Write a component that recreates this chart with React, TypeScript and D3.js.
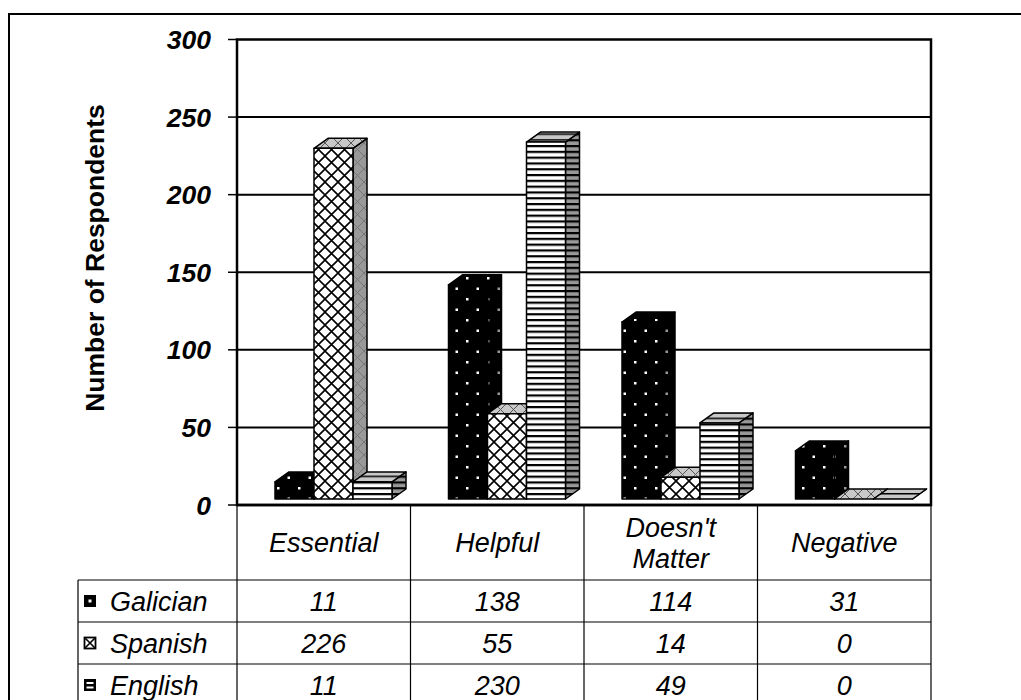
import React from "react";
import * as d3 from "d3";

// Survey answers by language
const categories = ["Essential", "Helpful", "Doesn't Matter", "Negative"];
const categoryLines = [["Essential"], ["Helpful"], ["Doesn't", "Matter"], ["Negative"]];
const seriesNames = ["Galician", "Spanish", "English"];
const galician = [11, 138, 114, 31];
const spanish = [226, 55, 14, 0];
const english = [11, 230, 49, 0];
const yTicks = [0, 50, 100, 150, 200, 250, 300];

const seriesValues = [galician, spanish, english];

const W = 1021;
const H = 700;
const plotLeft = 237;
const plotRight = 931;
const plotTop = 39.5;
const plotBottom = 505;
const floorShift = 6; // front faces sit slightly above the back wall baseline
const depthX = 14;
const depthY = -10;
const groupOffset = 38;
const barW = 39;

const tableLeft = 78;
const headerBottom = 580;
const rowH = 42;

const font = "'Liberation Sans', Arial, Helvetica, sans-serif";
const tableFont = 27;

const faceFills = [
  { front: "url(#dotsFront)", side: "url(#dotsSide)", top: "url(#dotsFront)" },
  { front: "url(#crossFront)", side: "url(#crossSide)", top: "url(#crossTop)" },
  { front: "url(#stripeFront)", side: "url(#stripeSide)", top: "url(#stripeTop)" },
];

export default function App() {
  const y = d3.scaleLinear().domain([0, 300]).range([plotBottom, plotTop]);
  const x = d3.scaleBand<string>().domain(categories).range([plotLeft, plotRight]);
  const xs = d3
    .scaleBand<string>()
    .domain(seriesNames)
    .range([0, barW * seriesNames.length]);

  const bars: React.ReactNode[] = [];
  categories.forEach((c, ci) => {
    seriesNames.forEach((s, si) => {
      const v = seriesValues[si][ci];
      const x0 = (x(c) as number) + groupOffset + (xs(s) as number);
      const x1 = x0 + barW;
      const bottom = plotBottom - floorShift;
      const top = y(v) - floorShift;
      const f = faceFills[si];
      const pts = (arr: number[][]) => arr.map((p) => p.join(",")).join(" ");
      bars.push(
        <g key={`${c}-${s}`} stroke="#000" strokeWidth={1.5} strokeLinejoin="round">
          <polygon
            fill={f.side}
            points={pts([
              [x1, top],
              [x1 + depthX, top + depthY],
              [x1 + depthX, bottom + depthY],
              [x1, bottom],
            ])}
          />
          <polygon
            fill={f.top}
            points={pts([
              [x0, top],
              [x1, top],
              [x1 + depthX, top + depthY],
              [x0 + depthX, top + depthY],
            ])}
          />
          {v > 0 && <rect x={x0} y={top} width={barW} height={bottom - top} fill={f.front} />}
        </g>
      );
    });
  });

  const colEdges = [plotLeft, ...categories.map((c) => (x(c) as number) + x.bandwidth())];
  const rowTops = seriesNames.map((_, i) => headerBottom + i * rowH);

  return (
    <svg
      width={W}
      height={H}
      style={{ position: "absolute", left: 0, top: 0, background: "#fff" }}
      fontFamily={font}
    >
      <defs>
        <pattern id="dotsFront" width={21} height={21} patternUnits="userSpaceOnUse">
          <rect width={21} height={21} fill="#000" />
          <rect x={4} y={4} width={2.5} height={2.5} fill="#fff" />
          <rect x={14.5} y={14.5} width={2.5} height={2.5} fill="#fff" />
        </pattern>
        <pattern id="dotsSide" width={21} height={21} patternUnits="userSpaceOnUse">
          <rect width={21} height={21} fill="#000" />
          <rect x={4} y={4} width={2.5} height={2.5} fill="#999" />
          <rect x={14.5} y={14.5} width={2.5} height={2.5} fill="#999" />
        </pattern>
        <pattern id="crossFront" width={13} height={13} patternUnits="userSpaceOnUse">
          <rect width={13} height={13} fill="#fff" />
          <path d="M0,0L13,13M13,0L0,13" stroke="#000" strokeWidth={1.6} />
        </pattern>
        <pattern id="crossSide" width={13} height={13} patternUnits="userSpaceOnUse">
          <rect width={13} height={13} fill="#999" />
          <path d="M0,0L13,13M13,0L0,13" stroke="#777" strokeWidth={1} />
        </pattern>
        <pattern id="crossTop" width={13} height={13} patternUnits="userSpaceOnUse">
          <rect width={13} height={13} fill="#c8c8c8" />
          <path d="M0,0L13,13M13,0L0,13" stroke="#555" strokeWidth={1} />
        </pattern>
        <pattern id="stripeFront" width={8} height={5.8} patternUnits="userSpaceOnUse">
          <rect width={8} height={5.8} fill="#fff" />
          <rect y={0} width={8} height={2.2} fill="#000" />
        </pattern>
        <pattern id="stripeSide" width={8} height={5.8} patternUnits="userSpaceOnUse">
          <rect width={8} height={5.8} fill="#999" />
          <rect y={0} width={8} height={2.2} fill="#000" />
        </pattern>
        <pattern id="stripeTop" width={8} height={5.8} patternUnits="userSpaceOnUse">
          <rect width={8} height={5.8} fill="#c8c8c8" />
          <rect y={0} width={8} height={1.5} fill="#000" />
        </pattern>
      </defs>

      {/* outer frame */}
      <rect x={9} y={14} width={1040} height={720} fill="none" stroke="#000" strokeWidth={2} />

      {/* gridlines and ticks */}
      {yTicks.map((t) => (
        <g key={t}>
          {t > 0 && t < 300 && (
            <line x1={plotLeft} x2={plotRight} y1={y(t)} y2={y(t)} stroke="#000" strokeWidth={2} />
          )}
          <line x1={228} x2={plotLeft} y1={y(t)} y2={y(t)} stroke="#000" strokeWidth={1.5} />
          <text
            x={211}
            y={y(t)}
            dy="0.36em"
            textAnchor="end"
            fontSize={26.5}
            fontWeight="bold"
            fontStyle="italic"
          >
            {t}
          </text>
        </g>
      ))}

      {/* plot frame */}
      <rect
        x={plotLeft}
        y={plotTop}
        width={plotRight - plotLeft}
        height={plotBottom - plotTop}
        fill="none"
        stroke="#000"
        strokeWidth={2.5}
      />

      {bars}

      {/* axis title */}
      <text
        transform="translate(104,258) rotate(-90)"
        textAnchor="middle"
        fontSize={26.5}
        fontWeight="bold"
      >
        Number of Respondents
      </text>

      {/* data table */}
      <g stroke="#000" strokeWidth={1.2}>
        {colEdges.map((cx, i) => (
          <line key={i} x1={cx} x2={cx} y1={plotBottom} y2={H + 10} />
        ))}
        <line x1={tableLeft} x2={tableLeft} y1={headerBottom} y2={H + 10} />
        {rowTops.map((ry, i) => (
          <line key={i} x1={tableLeft} x2={plotRight} y1={ry} y2={ry} />
        ))}
        <line x1={tableLeft} x2={plotRight} y1={headerBottom + 3 * rowH} y2={headerBottom + 3 * rowH} />
      </g>
      <line x1={plotLeft} x2={plotRight} y1={plotBottom} y2={plotBottom} stroke="#000" strokeWidth={2.5} />

      {categories.map((c, ci) => {
        const cx = (x(c) as number) + x.bandwidth() / 2;
        const lines = categoryLines[ci];
        const mid = (plotBottom + headerBottom) / 2;
        return (
          <text key={c} textAnchor="middle" fontSize={tableFont} fontStyle="italic">
            {lines.map((ln, li) => (
              <tspan key={li} x={cx} y={mid + (li - (lines.length - 1) / 2) * 31} dy="0.36em">
                {ln}
              </tspan>
            ))}
          </text>
        );
      })}

      {seriesNames.map((s, si) => {
        const cy = rowTops[si] + rowH / 2;
        return (
          <g key={s}>
            {si === 0 && (
              <g>
                <rect x={84} y={cy - 6} width={12} height={12} fill="#000" />
                <rect x={88.5} y={cy - 1.5} width={3} height={3} fill="#fff" />
              </g>
            )}
            {si === 1 && (
              <g>
                <rect x={84.5} y={cy - 5.5} width={11} height={11} fill="#fff" stroke="#000" strokeWidth={1.8} />
                <path
                  d={`M85,${cy - 5}L95,${cy + 5}M95,${cy - 5}L85,${cy + 5}`}
                  stroke="#000"
                  strokeWidth={1.6}
                />
              </g>
            )}
            {si === 2 && (
              <g>
                <rect x={84} y={cy - 6} width={12} height={12} fill="#000" />
                <rect x={86.5} y={cy - 3} width={7} height={2} fill="#fff" />
                <rect x={86.5} y={cy + 1.5} width={7} height={2} fill="#fff" />
              </g>
            )}
            <text x={110} y={cy} dy="0.36em" fontSize={tableFont} fontStyle="italic">
              {s}
            </text>
            {categories.map((c, ci) => (
              <text
                key={c}
                x={(x(c) as number) + x.bandwidth() / 2}
                y={cy}
                dy="0.36em"
                textAnchor="middle"
                fontSize={tableFont}
                fontStyle="italic"
              >
                {seriesValues[si][ci]}
              </text>
            ))}
          </g>
        );
      })}
    </svg>
  );
}
